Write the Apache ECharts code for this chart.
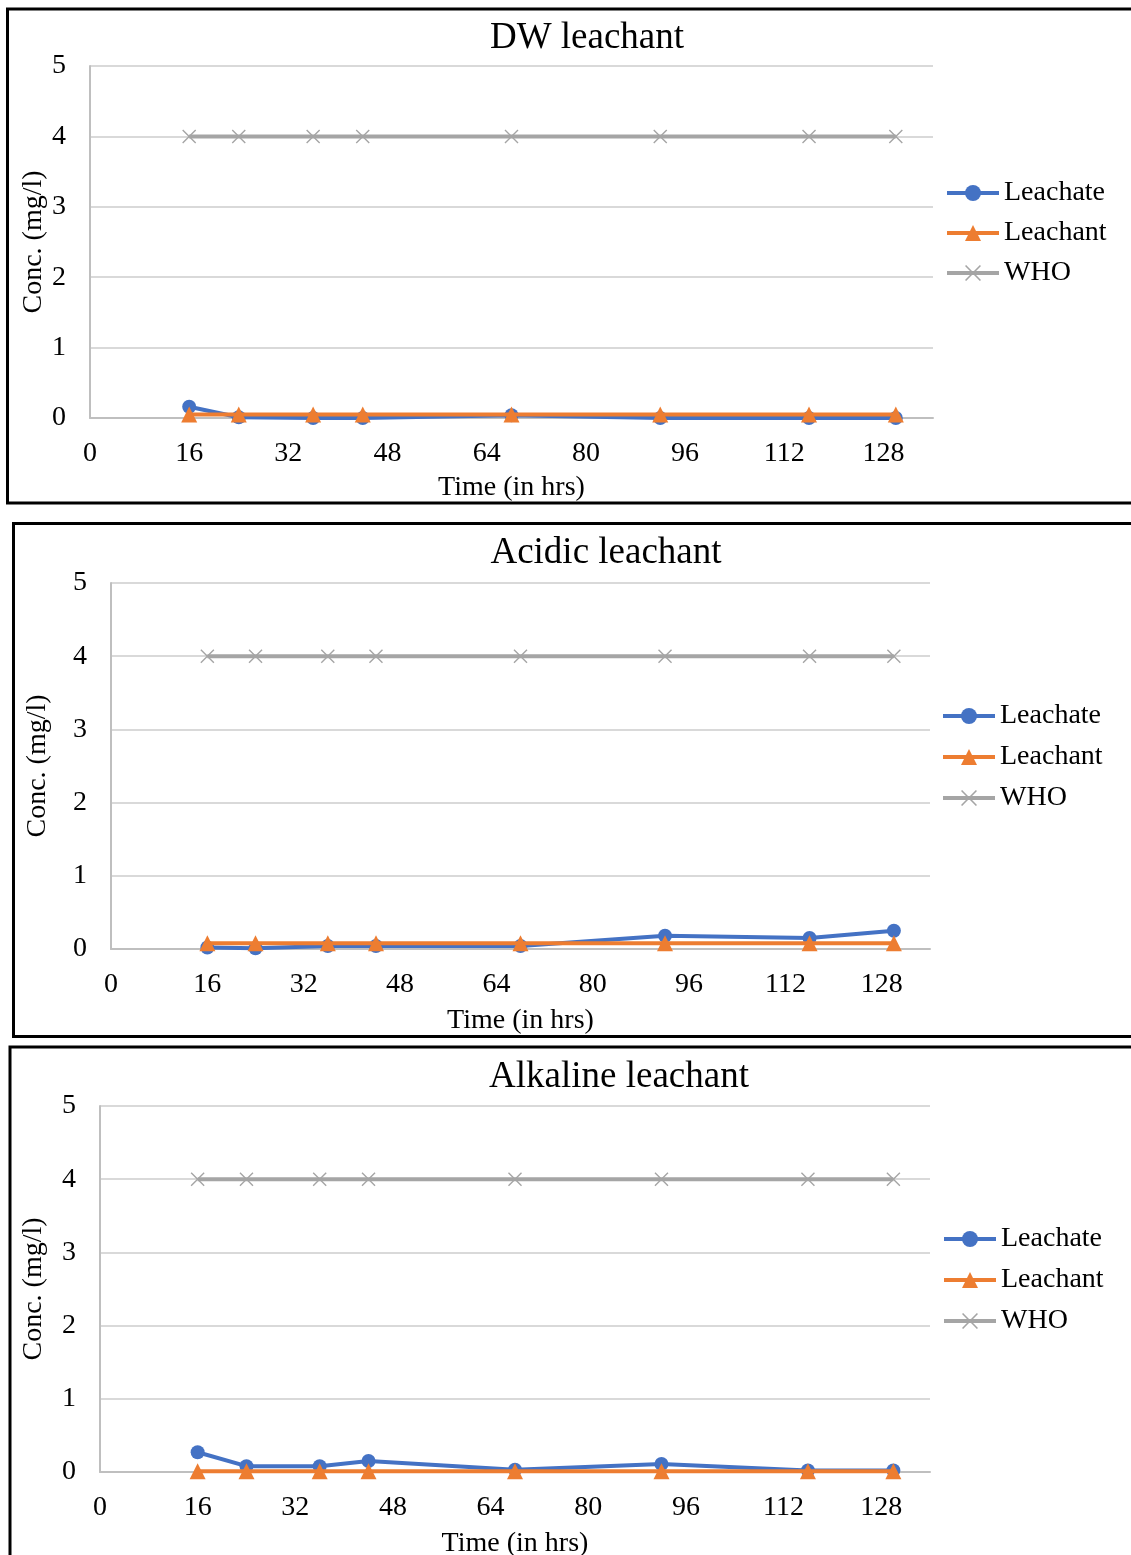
<!DOCTYPE html>
<html>
<head>
<meta charset="utf-8">
<script src="https://cdn.jsdelivr.net/npm/echarts@6/dist/echarts.min.js"></script>
<style>
  html, body { margin: 0; padding: 0; background: #fff; }
  #chart { width: 1131px; height: 1555px; }
</style>
</head>
<body>
<div id="chart"></div>
<script>
// Sampling times (hours) shared by all three leaching tests
const hours = [16, 24, 36, 44, 68, 92, 116, 130];

// Concentrations (mg/l)
const dwLeachate  = [0.16, 0.01, 0.00, 0.00, 0.04, 0.00, 0.00, 0.00];
const dwLeachant  = [0.05, 0.05, 0.05, 0.05, 0.05, 0.05, 0.05, 0.05];
const acidLeachate = [0.02, 0.01, 0.04, 0.04, 0.04, 0.18, 0.15, 0.25];
const acidLeachant = [0.08, 0.08, 0.08, 0.08, 0.08, 0.08, 0.08, 0.08];
const alkLeachate = [0.27, 0.08, 0.08, 0.15, 0.03, 0.11, 0.02, 0.02];
const alkLeachant = [0.01, 0.01, 0.01, 0.01, 0.01, 0.01, 0.01, 0.01];
const whoLimit    = [4, 4, 4, 4, 4, 4, 4, 4];

const panelTitles = ['DW leachant', 'Acidic leachant', 'Alkaline leachant'];
const seriesNames = ['Leachate', 'Leachant', 'WHO'];
const xTitle = 'Time (in hrs)';
const yTitle = 'Conc. (mg/l)';

const panelData = [
  [dwLeachate, dwLeachant, whoLimit],
  [acidLeachate, acidLeachant, whoLimit],
  [alkLeachate, alkLeachant, whoLimit]
];

// Layout of each framed panel
const layouts = [
  { frame: [7.5, 9, 1300, 494],      grid: [90, 66, 843, 352],   titleXY: [587, 38],   yGap: 42, xGap: 56, legend: [940, 174, 12] },
  { frame: [13.5, 523.5, 1300, 513], grid: [111, 583, 819, 366], titleXY: [606, 553],  yGap: 59, xGap: 58, legend: [936, 697, 13] },
  { frame: [10, 1047, 1300, 700],    grid: [100, 1106, 830, 366], titleXY: [619, 1077], yGap: 52, xGap: 58, legend: [937, 1220, 13] }
];

const FONT = '"Liberation Serif", "Times New Roman", serif';
const COLORS = ['#4472C4', '#ED7D31', '#A5A5A5'];
const SYMBOLS = [
  'circle',
  'triangle',
  'path://M0,0.7L0.7,0L5,4.3L9.3,0L10,0.7L5.7,5L10,9.3L9.3,10L5,5.7L0.7,10L0,9.3L4.3,5Z'
];
const SYMBOL_SIZES = [14, 16, 14];

const pairs = arr => hours.map((h, i) => [h, arr[i]]);

const grids = [], xAxes = [], yAxes = [], series = [], legends = [], graphics = [];

layouts.forEach((L, p) => {
  graphics.push({
    type: 'rect',
    shape: { x: L.frame[0], y: L.frame[1], width: L.frame[2], height: L.frame[3] },
    style: { fill: 'none', stroke: '#000', lineWidth: 3 },
    z: 100
  });
  graphics.push({
    type: 'text',
    x: L.titleXY[0], y: L.titleXY[1],
    style: { text: panelTitles[p], font: '37px ' + FONT, fill: '#000', align: 'center', verticalAlign: 'middle' },
    z: 100
  });

  grids.push({
    left: L.grid[0], top: L.grid[1], width: L.grid[2], height: L.grid[3],
    containLabel: false, outerBoundsMode: 'none'
  });

  xAxes.push({
    type: 'value', gridIndex: p, min: 0, max: 136, interval: 16,
    name: xTitle, nameLocation: 'middle', nameGap: L.xGap,
    nameMoveOverlap: false,
    nameTextStyle: { fontFamily: FONT, fontSize: 28, color: '#000' },
    axisLine: { show: true, onZero: true, lineStyle: { color: '#BFBFBF', width: 2 } },
    axisTick: { show: false },
    splitLine: { show: false },
    axisLabel: { fontFamily: FONT, fontSize: 28, color: '#000', margin: 22, showMaxLabel: false }
  });

  yAxes.push({
    type: 'value', gridIndex: p, min: 0, max: 5, interval: 1,
    name: yTitle, nameLocation: 'middle', nameGap: L.yGap, nameRotate: 90,
    nameMoveOverlap: false,
    nameTextStyle: { fontFamily: FONT, fontSize: 28, color: '#000' },
    axisLine: { show: true, lineStyle: { color: '#BFBFBF', width: 2 } },
    axisTick: { show: false },
    splitLine: { show: true, lineStyle: { color: '#D9D9D9', width: 2 } },
    axisLabel: { fontFamily: FONT, fontSize: 28, color: '#000', margin: 24 }
  });

  seriesNames.forEach((name, s) => {
    series.push({
      name: name,
      type: 'line',
      xAxisIndex: p, yAxisIndex: p,
      data: pairs(panelData[p][s]),
      symbol: SYMBOLS[s],
      symbolSize: SYMBOL_SIZES[s],
      showAllSymbol: true,
      lineStyle: { color: COLORS[s], width: 4 },
      itemStyle: { color: COLORS[s] },
      z: 2 + s,
      animation: false
    });
  });

  legends.push({
    orient: 'vertical',
    left: L.legend[0], top: L.legend[1],
    itemGap: L.legend[2],
    itemWidth: 52, itemHeight: 20,
    data: seriesNames,
    selectedMode: false,
    lineStyle: { width: 4 },
    textStyle: { fontFamily: FONT, fontSize: 28, color: '#000' }
  });
});

const chart = echarts.init(document.getElementById('chart'), null, { renderer: 'canvas' });
chart.setOption({
  backgroundColor: '#fff',
  animation: false,
  grid: grids,
  xAxis: xAxes,
  yAxis: yAxes,
  legend: legends,
  series: series,
  graphic: graphics
});
</script>
</body>
</html>
